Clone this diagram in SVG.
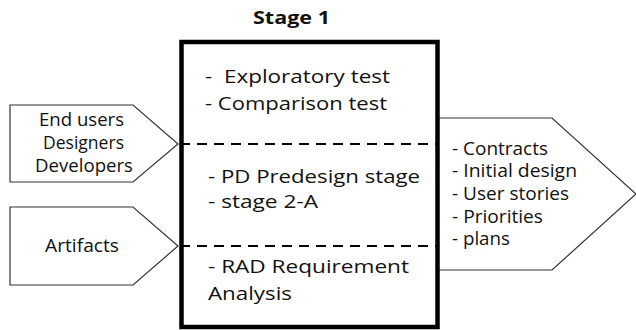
<svg xmlns="http://www.w3.org/2000/svg" width="636" height="330" viewBox="0 0 636 330">
<style>
text{font-family:"Open Sans","Noto Sans","Liberation Sans",sans-serif;font-size:17.5px;fill:#111}
.title{font-weight:bold;font-size:17px}
.arrow{fill:#fff;stroke:#333;stroke-width:1.2}
.box{fill:#fff;stroke:#000;stroke-width:4.5}
.dash{stroke:#000;stroke-width:2;stroke-dasharray:10 7;fill:none}
</style>
<rect width="636" height="330" fill="#fff"/>
<text class="title" x="253" y="24" textLength="77" lengthAdjust="spacingAndGlyphs">Stage 1</text>
<g id="inputs-people">
<polygon class="arrow" points="10,105 133,105 178,144 133,182 10,182"/>
<text x="39" y="126" textLength="85" lengthAdjust="spacingAndGlyphs">End users</text>
<text x="43" y="149" textLength="81" lengthAdjust="spacingAndGlyphs">Designers</text>
<text x="35" y="172" textLength="98" lengthAdjust="spacingAndGlyphs">Developers</text>
</g>
<g id="inputs-artifacts">
<polygon class="arrow" points="10,207 133,207 178,246 133,285 10,285"/>
<text x="45" y="252" textLength="74" lengthAdjust="spacingAndGlyphs">Artifacts</text>
</g>
<g id="outputs">
<polygon class="arrow" points="438,118 552,118 636,194 552,270 438,270"/>
<text x="452" y="155" textLength="96" lengthAdjust="spacingAndGlyphs">- Contracts</text>
<text x="452" y="177" textLength="125" lengthAdjust="spacingAndGlyphs">- Initial design</text>
<text x="452" y="200" textLength="117" lengthAdjust="spacingAndGlyphs">- User stories</text>
<text x="452" y="223" textLength="91" lengthAdjust="spacingAndGlyphs">- Priorities</text>
<text x="452" y="245" textLength="58" lengthAdjust="spacingAndGlyphs">- plans</text>
</g>
<g id="stage1">
<rect class="box" x="181.5" y="42" width="256" height="285"/>
<text x="205" y="83" textLength="185" lengthAdjust="spacingAndGlyphs" xml:space="preserve">-  Exploratory test</text>
<text x="205" y="110" textLength="182" lengthAdjust="spacingAndGlyphs">- Comparison test</text>
<text x="208" y="183" textLength="212" lengthAdjust="spacingAndGlyphs">- PD Predesign stage</text>
<text x="208" y="208" textLength="110" lengthAdjust="spacingAndGlyphs">- stage 2-A</text>
<text x="208" y="273" textLength="201" lengthAdjust="spacingAndGlyphs">- RAD Requirement</text>
<text x="208" y="300" textLength="84" lengthAdjust="spacingAndGlyphs">Analysis</text>
</g>
<g id="connectors">
<line class="dash" x1="180" y1="144" x2="438" y2="144"/>
<line class="dash" x1="180" y1="246" x2="438" y2="246"/>
</g>
</svg>
